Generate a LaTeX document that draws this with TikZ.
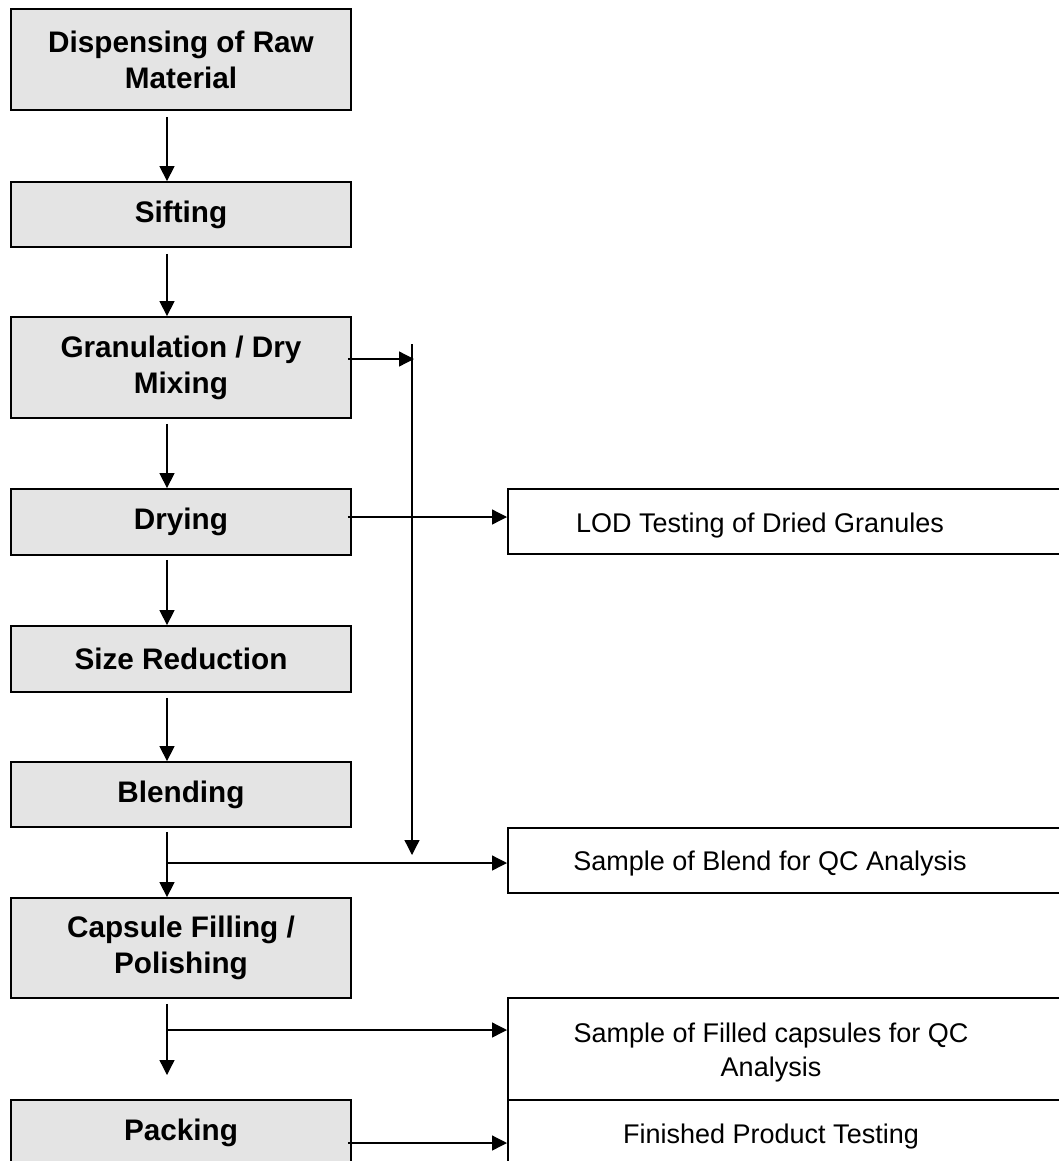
\documentclass[tikz,border=0pt]{standalone}
\usepackage{fontspec}
\setmainfont{Liberation Sans}
\usetikzlibrary{arrows.meta,calc}
\definecolor{boxgray}{RGB}{228,228,228}
\begin{document}
\begin{tikzpicture}[x=0.5pt,y=-0.5pt,
  stage/.style={draw=black, line width=0.9pt, fill=boxgray, inner sep=0pt,
    minimum width=170pt, align=center,
    font=\bfseries\fontsize{14.85}{18}\selectfont},
  qcbox/.style={draw=black, line width=0.9pt, fill=white, inner sep=0pt,
    anchor=west, minimum width=320pt},
  qctext/.style={inner sep=0pt, align=center, anchor=base,
    font=\fontsize{13.5}{17}\selectfont},
  arr/.style={line width=0.65pt, -{Triangle[length=7.5pt,width=7.5pt]}}]
\useasboundingbox (0,0) rectangle (1059,1161);
\clip (0,0) rectangle (1059,1161);

% main process column
\node[stage, minimum height=50.5pt] (disp)  at (181,59.5)  {Dispensing of Raw\\Material};
\node[stage, minimum height=32.5pt] (sift)  at (181,214.5) {Sifting};
\node[stage, minimum height=50.5pt] (gran)  at (181,367.5) {Granulation / Dry\\Mixing};
\node[stage, minimum height=33pt]   (dry)   at (181,522)   {Drying};
\node[stage, minimum height=33pt]   (size)  at (181,659)   {Size Reduction};
\node[stage, minimum height=32.5pt] (blend) at (181,794.5) {Blending};
\node[stage, minimum height=50pt]   (caps)  at (181,948)   {Capsule Filling /\\Polishing};
\node[stage, minimum height=33pt]   (pack)  at (181,1133)  {Packing};

% QC boxes
\node[qcbox, minimum height=32.5pt] (lod)    at (507,521.5) {};
\node[qcbox, minimum height=32.5pt] (sblend) at (507,860.5) {};
\node[qcbox, minimum height=51pt]   (sfill)  at (507,1049)  {};
\node[qcbox, minimum height=33pt]   (fin)    at (507,1133)  {};

\node[qctext] (lodt)    at (760,532)  {LOD Testing of Dried Granules};
\node[qctext] (sblendt) at (770,870)  {Sample of Blend for QC Analysis};
\node[qctext] (sfillt)  at (771,1076) {Sample of Filled capsules for QC\\Analysis};
\node[qctext] (fint)    at (771,1143) {Finished Product Testing};

% helper coordinates
\coordinate (col) at (167,0);
\coordinate (gy) at (0,359);
\coordinate (dy) at (0,517);
\coordinate (py) at (0,1143);
\coordinate (vtop) at (412,344);
\coordinate (vbot) at (412,855);
\coordinate (bj) at (167,863);
\coordinate (cj) at (167,1030);
\coordinate (cend) at (167,1075);

% main flow arrows
\draw[arr] ($(disp.south -| col)+(0,6)$)  -- (sift.north -| col);
\draw[arr] ($(sift.south -| col)+(0,6)$)  -- (gran.north -| col);
\draw[arr] ($(gran.south -| col)+(0,5)$)  -- (dry.north -| col);
\draw[arr] ($(dry.south -| col)+(0,4)$)   -- (size.north -| col);
\draw[arr] ($(size.south -| col)+(0,5)$)  -- (blend.north -| col);
\draw[arr] ($(blend.south -| col)+(0,4)$) -- (caps.north -| col);
\draw[arr] ($(caps.south -| col)+(0,5)$)  -- (cend);

% side branches
\draw[arr] ($(gran.east |- gy)+(-4,0)$) -- ($(vtop |- gy)+(2,0)$);
\draw[arr] (vtop) -- (vbot);
\draw[arr] ($(dry.east |- dy)+(-4,0)$) -- (lod.west |- dy);
\draw[arr] (bj) -- (sblend.west |- bj);
\draw[arr] (cj) -- (sfill.west |- cj);
\draw[arr] ($(pack.east |- py)+(-4,0)$) -- (fin.west |- py);
\end{tikzpicture}
\end{document}
